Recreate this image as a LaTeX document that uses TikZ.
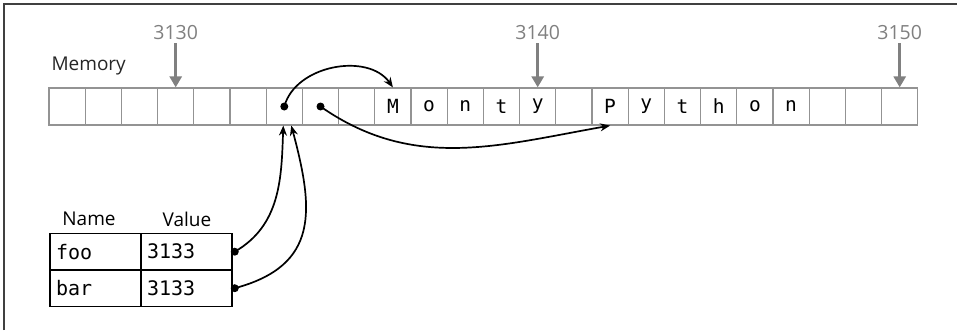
\documentclass[tikz,border=0pt]{standalone}
\usepackage{fontspec}
\setmainfont{Open Sans}
\setmonofont{DejaVu Sans Mono}
\usetikzlibrary{calc, positioning, arrows.meta}

\begin{document}
\begin{tikzpicture}[>=Stealth, x=1pt, y=1pt,
  cell/.style={draw=gray!85, line width=1.2pt, minimum width=36.2pt, minimum height=37pt,
    inner sep=0pt, font=\ttfamily\fontsize{19.5}{21}\selectfont},
  addr/.style={text=gray, font=\fontsize{19.5}{21}\selectfont},
  addrarrow/.style={-{Triangle[length=11pt, width=12pt]}, line width=3.5pt, gray},
  tcell/.style={draw, line width=1.5pt, minimum width=91pt, minimum height=36.5pt,
    inner xsep=6pt, text width=79pt, align=left, font=\ttfamily\fontsize{20}{22}\selectfont},
  ptr/.style={-{Stealth[length=10pt, width=8pt]}, line width=1.7pt},
  dot/.style={circle, fill=black, inner sep=0pt, minimum size=8pt}]

  \useasboundingbox (0,0) rectangle (957,330);
  \draw[line width=1.3pt, black!75] (4,0) -- (4,326) -- (957,326);

  % Memory cells
  \foreach \ch [count=\i from 0] in {{},{},{},{},{},{},{},{},{},M,o,n,t,y,{},P,y,t,h,o,n,{},{},{}}
    \node[cell] (c\i) at ({67.1+36.2*\i},223.5) {\ch};
  \node[anchor=west, text=black!85, font=\fontsize{19}{21}\selectfont] (mem) at (48,264) {Memory};

  % Addresses
  \node[addr] (a3130) at ($(c3.north)+(0,55)$) {3130};
  \node[addr] (a3140) at ($(c13.north)+(0,55)$) {3140};
  \node[addr] (a3150) at ($(c23.north)+(0,55)$) {3150};
  \draw[addrarrow] (a3130) -- (c3.north);
  \draw[addrarrow] (a3140) -- (c13.north);
  \draw[addrarrow] (a3150) -- (c23.north);

  % Pointers in memory
  \node[dot] (p0) at (c6.center) {};
  \node[dot] (p1) at (c7.center) {};
  \draw[ptr] (p0.center) to[out=75, in=125] (c9.north);
  \draw[ptr] (p1.center) to[out=-35, in=190] (c15.south);

  % Name table
  \node[font=\fontsize{19}{21}\selectfont] (hname) at (89,111) {Name};
  \node[font=\fontsize{19}{21}\selectfont] (hvalue) at (187,111) {Value};
  \node[tcell] (nfoo) at (95.5,78.3) {foo};
  \node[tcell] (vfoo) at (186.5,78.3) {3133};
  \node[tcell] (nbar) at (95.5,41.8) {bar};
  \node[tcell] (vbar) at (186.5,41.8) {3133};
  \node[dot] (q0) at ([xshift=2pt]vfoo.east) {};
  \node[dot] (q1) at ([xshift=2pt]vbar.east) {};
  \draw[ptr] (q0.center) to[out=30, in=-92] ([xshift=-1pt]c6.south);
  \draw[ptr] (q1.center) to[out=15, in=-75, looseness=1.3] ([xshift=7pt]c6.south);

\end{tikzpicture}
\end{document}
